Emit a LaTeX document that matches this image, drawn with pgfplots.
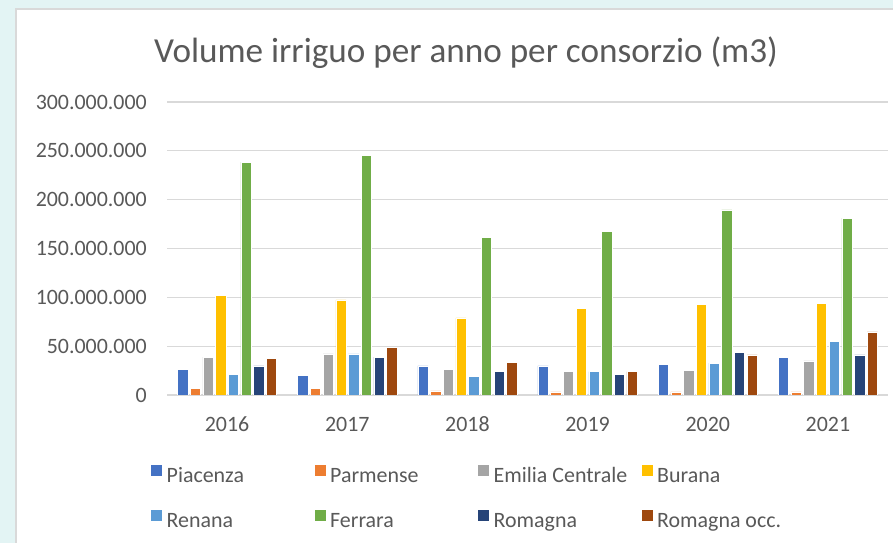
\documentclass[border=0pt]{standalone}
\usepackage{fontspec}
\setmainfont{Carlito}
\usepackage{pgfplots}
\usepackage{pgfplotstable}
\pgfplotsset{compat=1.18}

\definecolor{txt}{HTML}{595959}
\definecolor{gridc}{HTML}{D9D9D9}
\definecolor{bgc}{HTML}{E3F4F4}
\definecolor{cPia}{HTML}{4472C4}
\definecolor{cPar}{HTML}{ED7D31}
\definecolor{cEmi}{HTML}{A5A5A5}
\definecolor{cBur}{HTML}{FFC000}
\definecolor{cRen}{HTML}{5B9BD5}
\definecolor{cFer}{HTML}{70AD47}
\definecolor{cRom}{HTML}{264478}
\definecolor{cRoc}{HTML}{9E480E}

% volumi in m3, anni 2016-2021 (x = 0..5)
\pgfplotstableread{
x  pia      par     emi      bur       ren      fer       rom      roc
0  26500000 6800000 38800000 102000000 21400000 238400000 29900000 37800000
1  20400000 6800000 42200000 97300000  42200000 245600000 38800000 48600000
2  29900000 4100000 26500000 78900000  19000000 161200000 23800000 33700000
3  29900000 3100000 23800000 88800000  23800000 167300000 21400000 23800000
4  31300000 3100000 25200000 92500000  32700000 189500000 43500000 41200000
5  38800000 3100000 35000000 93900000  54800000 181000000 41200000 64600000
}\vol

\newcommand{\lent}[1]{\makebox[151bp][l]{\hspace{4bp}#1}}

\begin{document}
\begin{tikzpicture}[x=1bp,y=1bp]
\useasboundingbox (0,0) rectangle (893,543);
\fill[bgc] (0,0) rectangle (893,543);
\fill[white] (17,0) rectangle (893,533);
\draw[gridc, line width=2bp] (16,0) -- (16,534) -- (893,534);
\node[anchor=base, text=txt, font=\fontsize{35.3}{40}\selectfont] at (466,480) {Volume irriguo per anno per consorzio (m3)};

\begin{axis}[
  at={(167bp,148bp)}, anchor=south west,
  width=721bp, height=293bp, scale only axis,
  xmin=-0.5, xmax=5.5,
  ymin=0, ymax=300000000,
  axis line style={draw=none},
  major tick length=0pt,
  ymajorgrids, grid style={gridc, line width=1.3bp},
  xtick={0,...,5},
  xticklabels={2016,2017,2018,2019,2020,2021},
  ytick={0,50000000,100000000,150000000,200000000,250000000,300000000},
  yticklabels={0,50.000.000,100.000.000,150.000.000,200.000.000,250.000.000,300.000.000},
  scaled y ticks=false,
  tick label style={text=txt, font=\fontsize{22}{26}\selectfont},
  yticklabel style={anchor=east, inner sep=0pt, xshift=-20bp},
  xticklabel style={anchor=base, inner sep=0pt, yshift=-37bp},
  ybar=2.4bp, bar width=10.3bp,
  every axis plot/.append style={draw=white, line width=0.5bp},
  legend columns=4,
  legend image code/.code={\fill[#1] (0bp,1.2bp) rectangle (12bp,13.2bp);},
  legend style={
    at={(-0.0236,-0.2355)}, anchor=north west,
    draw=none, fill=none, inner sep=0pt, column sep=0pt, row sep=21bp,
    font=\fontsize{22}{26}\selectfont, text=txt,
    nodes={inner sep=0pt, text height=15bp, text depth=5bp},
  },
]
\addplot[fill=cPia] table[x=x, y=pia] {\vol};
\addlegendentry{\lent{Piacenza}}
\addplot[fill=cPar] table[x=x, y=par] {\vol};
\addlegendentry{\lent{Parmense}}
\addplot[fill=cEmi] table[x=x, y=emi] {\vol};
\addlegendentry{\lent{Emilia Centrale}}
\addplot[fill=cBur] table[x=x, y=bur] {\vol};
\addlegendentry{\lent{Burana}}
\addplot[fill=cRen] table[x=x, y=ren] {\vol};
\addlegendentry{\lent{Renana}}
\addplot[fill=cFer] table[x=x, y=fer] {\vol};
\addlegendentry{\lent{Ferrara}}
\addplot[fill=cRom] table[x=x, y=rom] {\vol};
\addlegendentry{\lent{Romagna}}
\addplot[fill=cRoc] table[x=x, y=roc] {\vol};
\addlegendentry{\lent{Romagna occ.}}
\end{axis}
\end{tikzpicture}
\end{document}
